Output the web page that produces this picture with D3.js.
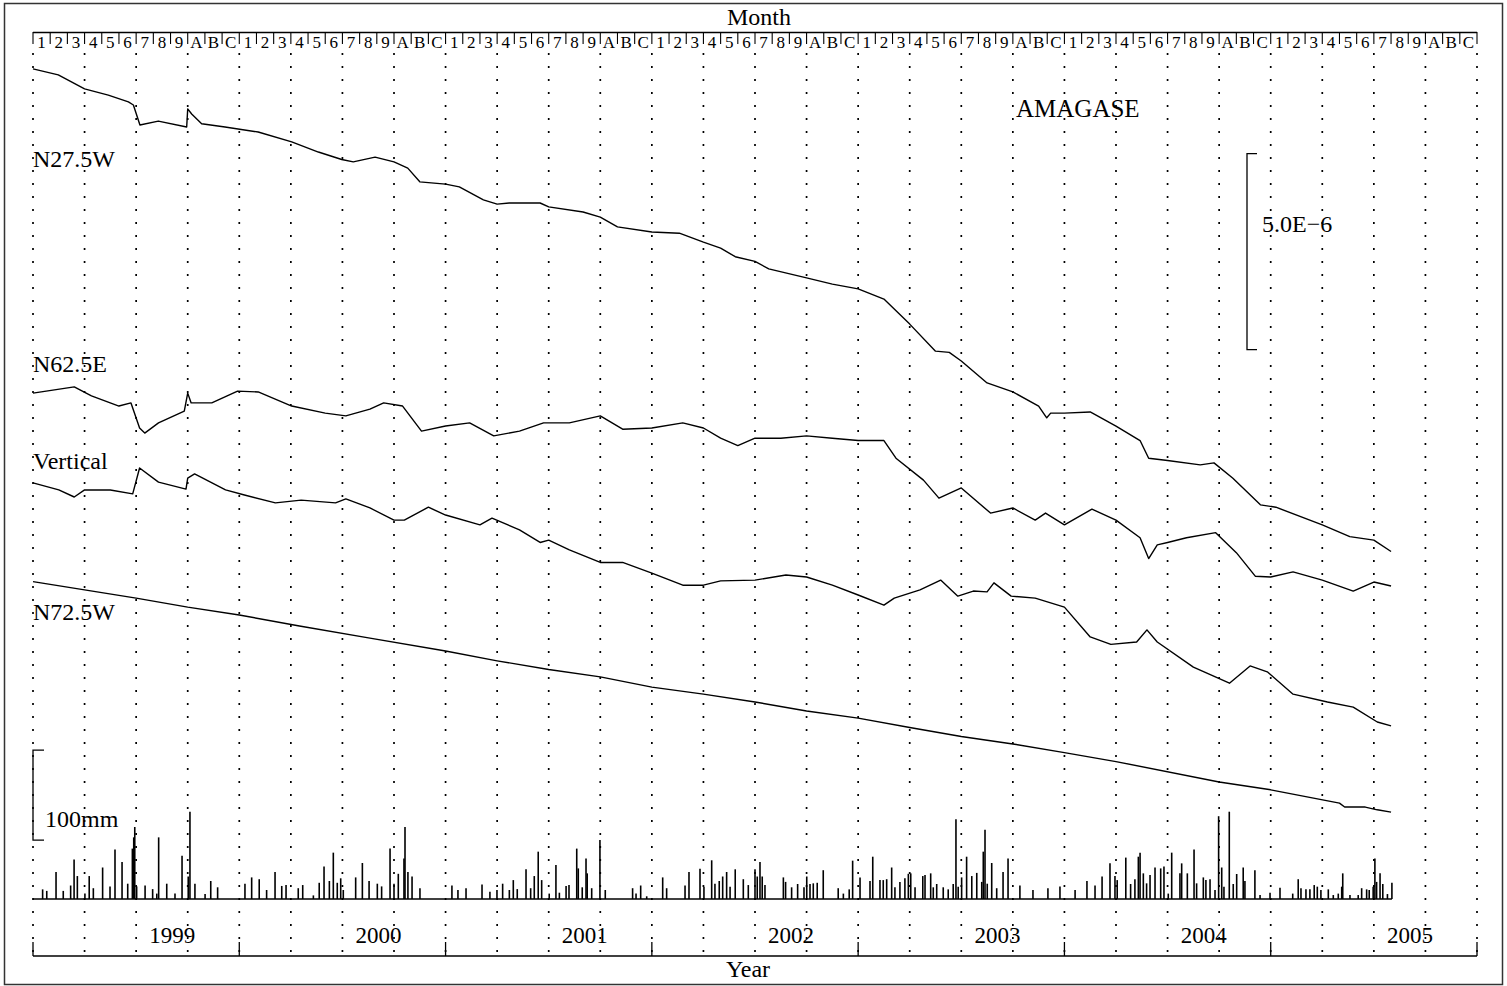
<!DOCTYPE html>
<html>
<head>
<meta charset="utf-8">
<script src="https://cdn.jsdelivr.net/npm/d3@7"></script>
<style>
  html, body { margin: 0; padding: 0; background: #fff; }
  svg { display: block; }
  text { font-family: "Liberation Serif", "Times New Roman", serif; fill: #000; }
</style>
</head>
<body>
<svg id="chart" width="1507" height="986"></svg>
<script>
// ---------- DATA ----------
const years = [1999, 2000, 2001, 2002, 2003, 2004, 2005];
const monthLabels = ["1","2","3","4","5","6","7","8","9","A","B","C"];

// strain series: [months since Jan 1999, strain (x1e-6, chart offset)]
const n275w = [[0,19.16],[1.47,19.01],[3,18.65],[4.38,18.49],[5.55,18.32],[5.84,18.24],[6.22,17.73],[7.29,17.83],[8.94,17.68],[9.0,18.14],[9.23,18.01],[9.81,17.76],[11.17,17.68],[13.1,17.55],[15.05,17.30],[16.6,17.04],[17.96,16.85],[18.63,16.79],[19.9,16.91],[21,16.79],[21.8,16.63],[22.5,16.28],[24,16.22],[24.8,16.15],[26.2,15.82],[27,15.71],[27.7,15.74],[29.5,15.74],[30,15.64],[32,15.51],[33,15.38],[34,15.13],[36,15.00],[37.6,14.97],[39,14.74],[40,14.59],[40.85,14.37],[42,14.25],[42.8,14.06],[45,13.83],[46.5,13.67],[48,13.55],[49.5,13.29],[51,12.65],[52.5,11.96],[53.3,11.93],[54,11.71],[55.5,11.15],[57,10.92],[58.5,10.56],[58.97,10.26],[59.2,10.38],[60,10.38],[61.5,10.41],[63,10.05],[64.4,9.68],[64.9,9.23],[66,9.17],[67.9,9.06],[68.7,9.11],[69.8,8.72],[71.4,8.04],[72.3,7.98],[75,7.53],[76.6,7.23],[78,7.14],[79,6.85]];
const n625e = [[0,10.89],[2.4,11.05],[3.4,10.82],[5,10.56],[5.7,10.64],[6.2,10.00],[6.5,9.87],[7.3,10.13],[8.8,10.43],[9.0,10.89],[9.2,10.64],[10.4,10.64],[11.9,10.94],[13.1,10.92],[15.05,10.56],[17,10.38],[18.2,10.31],[19.6,10.48],[20.4,10.64],[21.5,10.56],[22.6,9.92],[24,10.05],[25.4,10.13],[26.8,9.80],[28.3,9.92],[29.7,10.13],[31.2,10.13],[33,10.31],[34.3,9.97],[36,10.00],[37.8,10.13],[39,10.00],[40,9.74],[41,9.55],[42,9.74],[43.5,9.74],[45,9.80],[46.5,9.74],[48,9.68],[49.5,9.68],[50.2,9.23],[51.8,8.67],[52.7,8.21],[54,8.47],[55.7,7.83],[57,7.96],[58.3,7.65],[58.9,7.83],[60,7.53],[61.6,7.93],[63,7.65],[64.4,7.20],[64.9,6.67],[65.4,7.02],[66,7.08],[67.1,7.20],[68.8,7.33],[70,6.82],[71.1,6.22],[72,6.20],[73.3,6.33],[75,6.12],[76.8,5.84],[78,6.07],[79,5.97]];
const vertical = [[0,8.60],[1.5,8.42],[2.4,8.24],[3,8.42],[4.5,8.42],[5.8,8.32],[6.2,8.98],[7.3,8.62],[8.9,8.44],[9.0,8.72],[9.4,8.83],[11.2,8.42],[12.3,8.29],[14.1,8.09],[15.6,8.16],[17.6,8.09],[18.2,8.19],[19.6,7.96],[21,7.65],[21.6,7.65],[23.0,7.98],[24,7.78],[26.0,7.53],[26.7,7.70],[28.3,7.40],[29.5,7.08],[30,7.14],[31.2,6.89],[33,6.57],[34.3,6.57],[36,6.30],[37.8,5.99],[39,5.99],[40,6.10],[42,6.12],[43.8,6.25],[45,6.20],[46.5,5.99],[48,5.74],[49.5,5.48],[50.1,5.66],[51.6,5.87],[52.8,6.12],[53.8,5.71],[54.7,5.84],[55.5,5.82],[55.9,6.05],[56.9,5.71],[58.3,5.66],[60,5.43],[61.5,4.67],[62.7,4.48],[64.2,4.54],[64.8,4.85],[65.4,4.54],[67.5,3.90],[69.6,3.49],[70.8,3.93],[71.8,3.78],[73.3,3.21],[75.3,3.01],[76.8,2.88],[78.2,2.50],[79,2.40]];
const n725w = [[0,6.08],[6,5.66],[9,5.43],[12,5.23],[15.5,4.95],[19.6,4.64],[24,4.31],[27,4.06],[30,3.84],[33,3.65],[36,3.39],[39,3.21],[42,3.01],[45,2.78],[48,2.60],[51,2.36],[54,2.13],[57,1.94],[60,1.72],[63,1.49],[69,0.97],[72,0.77],[76.0,0.43],[76.3,0.33],[77.5,0.33],[78.2,0.26],[79,0.20]];

// daily rainfall: [months since Jan 1999, mm]
const rain = [[0.56,10.7],[0.80,9],[1.34,30],[1.76,9],[2.19,15],[2.39,44],[2.58,25.5],[3.02,6],[3.27,25.5],[3.51,12],[4.05,35],[4.48,14],[4.77,55],[5.18,41],[5.51,17],[5.78,56],[5.86,68.5],[5.92,80],[6.03,14],[6.52,15],[6.96,11],[7.20,6],[7.31,68.5],[7.78,17],[8.26,6],[8.67,48],[9.03,25],[9.13,97],[9.42,17],[10.01,5.5],[10.34,20],[10.74,13],
[12.33,17],[12.72,24],[13.16,22],[13.59,10],[14.08,30],[14.47,14.5],[14.72,15.5],[15.43,12],[15.69,15.5],[16.31,4],[16.65,18],[16.93,36],[17.24,20],[17.47,51.5],[17.70,18],[17.90,23],[18.05,10],[18.77,24],[19.16,40],[19.55,20],[20.03,17],[20.28,14],[20.77,56],[21.00,17],[21.25,28],[21.58,45],[21.64,80],[21.81,30],[22.05,25],[22.51,12],[24.37,15],[24.72,10],[25.19,12],[26.12,16],[26.58,8],[26.99,10],
[27.32,17],[27.71,10],[27.94,21],[28.17,11],[28.68,33],[28.95,12],[29.16,25.5],[29.39,52.6],[29.59,21],[30.03,6],[30.42,37.8],[30.62,7],[31.01,14.4],[31.18,15.5],[31.63,56],[31.72,34],[31.95,13],[32.17,45],[32.24,28.5],[32.50,12],[32.98,65.5],[33.29,10],
[34.88,12],[35.08,6],[35.35,15],[35.70,3],[36.63,24],[36.86,12],[37.93,15],[38.16,30],[38.80,33.7],[39.03,13.7],[39.48,43],[39.67,17],[39.92,20],[40.12,25],[40.35,30],[40.55,13.7],[40.85,33],[41.32,22],[41.61,15.5],[42.00,33],[42.13,25],[42.29,41],[42.42,25],[42.58,15.5],[43.65,24],[43.78,19],[44.13,13],[44.48,16.7],[44.85,13],[45.01,25],[45.20,16.7],[45.39,17.4],[45.62,18],[45.97,32],[46.84,12],[47.14,6],[47.48,10.7],[47.68,42.6],
[48.11,24],[48.69,20],[48.85,47],[49.27,21],[49.46,21],[49.66,22],[49.95,35],[50.14,13],[50.43,19],[50.72,23],[50.92,28],[51.06,28.5],[51.31,13],[51.76,25.5],[51.89,26.7],[52.22,28.5],[52.37,13],[52.57,16.7],[52.95,13],[53.24,10.7],[53.53,16.7],[53.69,88.5],[53.82,13.7],[54.02,24],[54.31,47],[54.61,25.5],[54.90,29],[55.19,19],[55.28,52.6],[55.38,77],[55.51,17],[55.77,40],[56.06,12],[56.43,30],[56.72,45],[57.41,15],[58.17,10],[59.04,12],[59.74,14],
[60.62,10],[61.31,20],[61.78,15],[62.19,25],[62.65,39.6],[62.94,25.5],[63.07,21],[63.57,46],[63.85,16.7],[64.10,22],[64.30,47],[64.40,51.5],[64.59,28.5],[64.78,17.4],[64.98,26.7],[65.27,35],[65.60,34],[65.79,36],[66.04,6],[66.24,51.5],[66.72,28.5],[66.82,39.6],[67.15,28.5],[67.54,55],[67.69,17.4],[68.08,24],[68.23,21],[68.47,22],[68.76,10],[68.97,92],[69.15,35],[69.28,13.7],[69.59,97],[69.82,16.7],[70.02,27.8],[70.40,35],[70.50,20],[71.08,32],[71.38,4.4],[71.96,7],
[72.54,12.6],[73.28,6],[73.60,22],[73.76,12],[74.05,10.7],[74.28,10.7],[74.53,15.5],[74.71,13.7],[74.92,10],[75.35,10.7],[75.64,4.4],[75.93,6],[76.13,13.7],[76.19,28.5],[76.61,4.4],[77.09,4.4],[77.29,12],[77.58,10.7],[77.73,10],[77.96,13.7],[78.06,45],[78.16,19],[78.36,28.5],[78.52,16.7],[78.79,5.5],[79.05,18]];

const seriesLabels = ["N27.5W", "N62.5E", "Vertical", "N72.5W"];

// ---------- DRAW ----------
const svg = d3.select("#chart");

const x = d3.scaleLinear().domain([0, 84]).range([33, 1477]);
const y = d3.scaleLinear().domain([0, 20]).range([820, 36]);
const r = d3.scaleLinear().domain([0, 100]).range([899, 809]);

// outer frame
svg.append("rect").attr("x", 4.5).attr("y", 3.5).attr("width", 1498).attr("height", 981)
  .attr("fill", "none").attr("stroke", "#333").attr("stroke-width", 1.5);

// dotted quarterly grid
const quarters = d3.range(0, 85, 3);
svg.append("g").selectAll("line").data(quarters).join("line")
  .attr("x1", d => x(d)).attr("x2", d => x(d))
  .attr("y1", 53).attr("y2", 956)
  .attr("stroke", "#000").attr("stroke-width", 1.7)
  .attr("stroke-dasharray", "2,11");

// month header
svg.append("line").attr("x1", x(0)).attr("x2", x(84)).attr("y1", 32.5).attr("y2", 32.5)
  .attr("stroke", "#000").attr("stroke-width", 1.3);
const months = d3.range(0, 84);
svg.append("g").selectAll("line").data(d3.range(0, 85)).join("line")
  .attr("x1", d => x(d)).attr("x2", d => x(d))
  .attr("y1", 32).attr("y2", 44)
  .attr("stroke", "#000").attr("stroke-width", 1.1);
svg.append("g").selectAll("text").data(months).join("text")
  .attr("x", d => x(d + 0.5)).attr("y", 48)
  .attr("text-anchor", "middle").attr("font-size", 17)
  .text(d => monthLabels[d % 12]);

svg.append("text").attr("x", 759).attr("y", 25).attr("text-anchor", "middle")
  .attr("font-size", 24).text("Month");

// series lines
const line = d3.line().x(d => x(d[0])).y(d => y(d[1]));
[n275w, n625e, vertical, n725w].forEach(s => {
  svg.append("path").datum(s).attr("d", line)
    .attr("fill", "none").attr("stroke", "#000").attr("stroke-width", 1.4)
    .attr("stroke-linejoin", "round");
});

// series labels
const labelY = [167, 372, 469, 620];
seriesLabels.forEach((t, i) => {
  svg.append("text").attr("x", 33).attr("y", labelY[i]).attr("font-size", 24).text(t);
});

svg.append("text").attr("x", 1016).attr("y", 117).attr("font-size", 25).text("AMAGASE");

// strain scale bar (5.0E-6)
const sb0 = 12, sb1 = 17;
svg.append("path")
  .attr("d", `M${1257},${y(sb1)}H${1247}V${y(sb0)}H${1257}`)
  .attr("fill", "none").attr("stroke", "#000").attr("stroke-width", 1.3);
svg.append("text").attr("x", 1262).attr("y", 232).attr("font-size", 24).text("5.0E\u22126");

// rain scale bar (100mm)
const rb0 = 65.5;
svg.append("path")
  .attr("d", `M${44},${r(rb0 + 100)}H${33}V${r(rb0)}H${44}`)
  .attr("fill", "none").attr("stroke", "#000").attr("stroke-width", 1.3);
svg.append("text").attr("x", 45).attr("y", 827).attr("font-size", 24).text("100mm");

// rain bars
svg.append("g").selectAll("line").data(rain).join("line")
  .attr("x1", d => x(d[0])).attr("x2", d => x(d[0]))
  .attr("y1", r(0)).attr("y2", d => r(d[1]))
  .attr("stroke", "#000").attr("stroke-width", 1.6);
svg.append("line").attr("x1", x(0)).attr("x2", x(79.05)).attr("y1", r(0)).attr("y2", r(0))
  .attr("stroke", "#000").attr("stroke-width", 1.5);

// year axis
svg.append("line").attr("x1", x(0)).attr("x2", x(84)).attr("y1", 956).attr("y2", 956)
  .attr("stroke", "#000").attr("stroke-width", 1.3);
svg.append("g").selectAll("line").data(d3.range(0, 85, 12)).join("line")
  .attr("x1", d => x(d)).attr("x2", d => x(d)).attr("y1", 942).attr("y2", 956)
  .attr("stroke", "#000").attr("stroke-width", 1.3);
svg.append("g").selectAll("text").data(years).join("text")
  .attr("x", (d, i) => x(i * 12 + 8.1)).attr("y", 943)
  .attr("text-anchor", "middle").attr("font-size", 23)
  .text(d => d);
svg.append("text").attr("x", 748).attr("y", 977).attr("text-anchor", "middle")
  .attr("font-size", 24).text("Year");
</script>
</body>
</html>
